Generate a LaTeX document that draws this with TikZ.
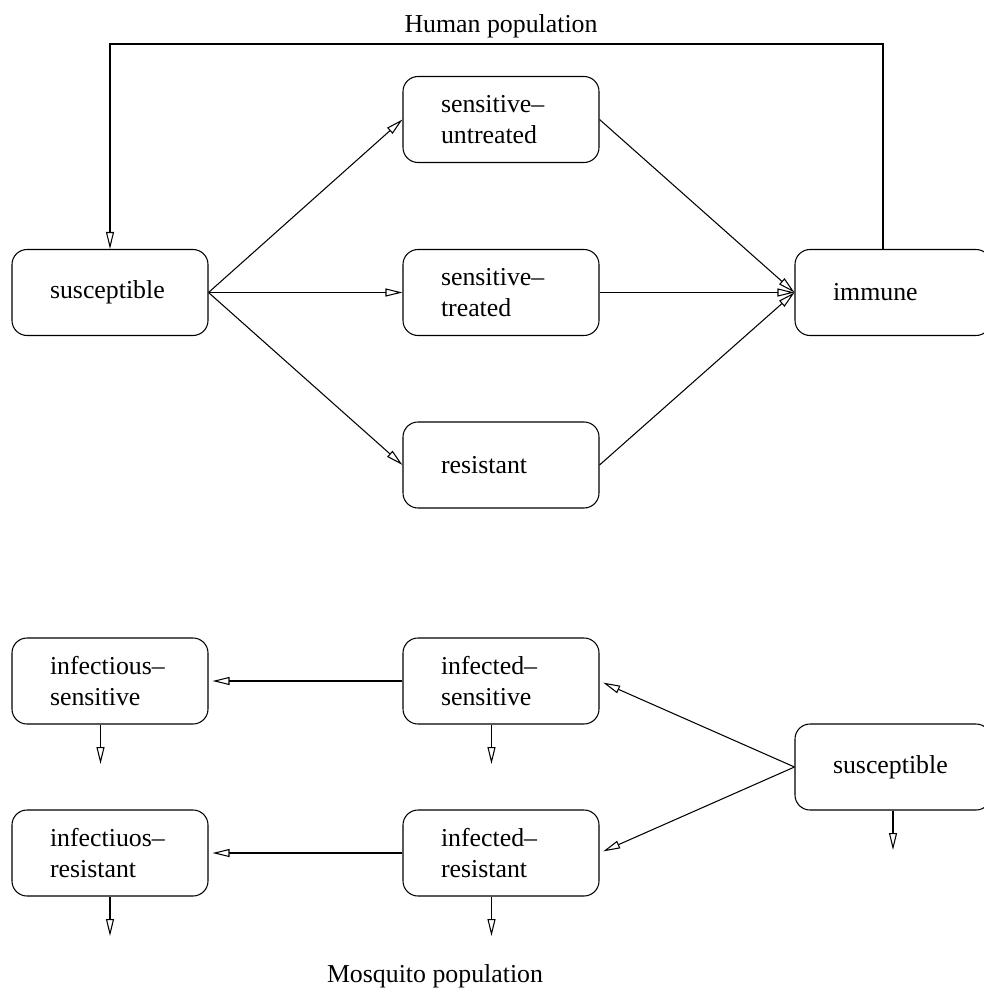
\documentclass[tikz,border=0pt]{standalone}
\usepackage{fontspec}
\setmainfont{Liberation Serif}
\usetikzlibrary{arrows.meta}
\begin{document}
\begin{tikzpicture}[line width=0.6pt,
  every node/.style={font=\fontsize{14.7}{18}\selectfont},
  compartment/.style={draw,rounded corners=0.3cm,minimum width=3.92cm,minimum height=1.72cm,text width=2.4cm,inner xsep=0.76cm,align=left},
  flow/.style={-{Triangle[open,length=0.34cm,width=0.16cm]}},
  gap/.style={shorten >=0.08cm}]
\useasboundingbox (0,0) rectangle (19.66,-19.84);
\node[anchor=base] (hlabel) at (10.02,-0.66) {Human population};
\node[compartment] (hsus) at (2.2,-5.85) {susceptible};
\node[compartment] (hsu) at (10.02,-2.39) {sensitive--\\untreated};
\node[compartment] (hst) at (10.02,-5.85) {sensitive--\\treated};
\node[compartment] (hres) at (10.02,-9.3) {resistant};
\node[compartment] (himm) at (17.86,-5.85) {immune};
\coordinate (loop) at (2.2,-0.88);
\foreach \n in {hsu,hst,hres}{\draw[flow] (hsus.east) -- (\n.west); \draw[flow] (\n.east) -- (himm.west);}
\draw[flow] ([xshift=-0.2cm]himm.north) |- (loop) -- (hsus.north);
\node[compartment] (mins) at (2.2,-13.62) {infectious--\\sensitive};
\node[compartment] (minr) at (2.2,-17.06) {infectiuos--\\resistant};
\node[compartment] (mfs) at (10.02,-13.62) {infected--\\sensitive};
\node[compartment] (mfr) at (10.02,-17.06) {infected--\\resistant};
\node[compartment] (msus) at (17.86,-15.34) {susceptible};
\node[anchor=base] (mlabel) at (8.7,-19.64) {Mosquito population};
\draw[flow,gap] (msus.west) -- (mfs.east);
\draw[flow,gap] (msus.west) -- (mfr.east);
\draw[flow,gap] (mfs.west) -- (mins.east);
\draw[flow,gap] (mfr.west) -- (minr.east);
\foreach \n in {mins,mfs,mfr}\draw[flow] ([xshift=-0.19cm]\n.south) -- ++(0,-0.79);
\foreach \n in {minr,msus}\draw[flow] (\n.south) -- ++(0,-0.79);
\end{tikzpicture}
\end{document}
